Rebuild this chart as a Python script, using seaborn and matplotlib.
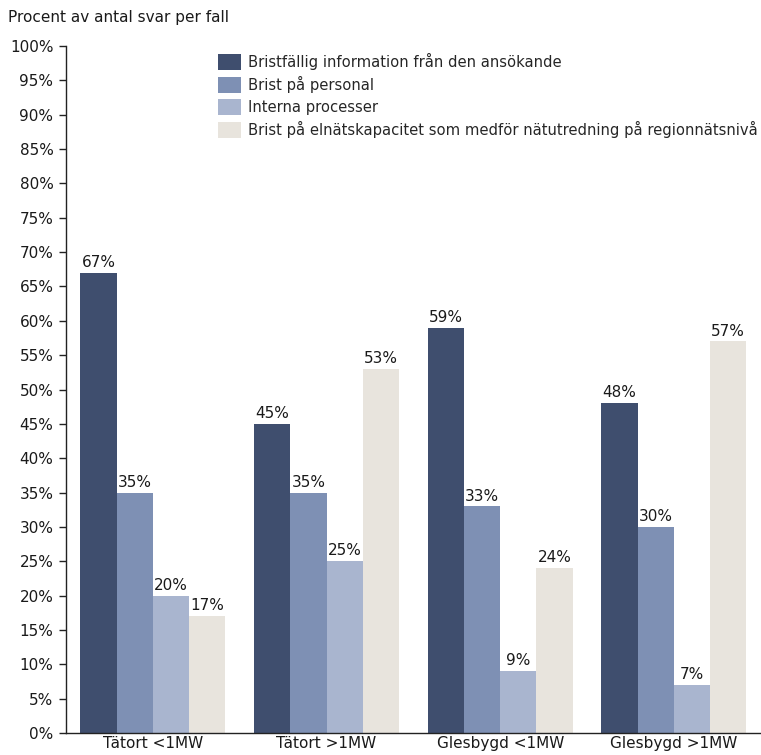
import matplotlib

matplotlib.use("Agg")
import matplotlib.pyplot as plt
import pandas as pd
import seaborn as sns

# Data
categories = ["Tätort <1MW", "Tätort >1MW", "Glesbygd <1MW", "Glesbygd >1MW"]
series_names = [
    "Bristfällig information från den ansökande",
    "Brist på personal",
    "Interna processer",
    "Brist på elnätskapacitet som medför nätutredning på regionnätsnivå",
]
info_values = [67, 45, 59, 48]
personal_values = [35, 35, 33, 30]
process_values = [20, 25, 9, 7]
capacity_values = [17, 53, 24, 57]
colors = ["#3f4e6e", "#7e90b4", "#a9b5cf", "#e8e4dd"]

rows = []
for name, vals in zip(
    series_names, [info_values, personal_values, process_values, capacity_values]
):
    for cat, v in zip(categories, vals):
        rows.append({"kategori": cat, "serie": name, "procent": v})
df = pd.DataFrame(rows)

sns.set_theme(style="white")
plt.rcParams["font.family"] = ["DejaVu Sans"]

fig = plt.figure(figsize=(7.61, 7.55), dpi=100)
ax = fig.add_axes([0.0867, 0.0291, 0.913, 0.910])

sns.barplot(
    data=df,
    x="kategori",
    y="procent",
    hue="serie",
    palette=colors,
    width=0.835,
    saturation=1,
    linewidth=0,
    ax=ax,
)

for container in ax.containers:
    ax.bar_label(container, fmt="%d%%", padding=2, fontsize=11, color="#1a1a1a")

ax.set_ylim(0, 100)
ax.set_xlim(-0.5, 3.5)
ax.set_yticks(range(0, 101, 5))
ax.set_yticklabels([f"{t}%" for t in range(0, 101, 5)], fontsize=11, color="#1a1a1a")
ax.tick_params(axis="x", labelsize=11, labelcolor="#1a1a1a", length=0, pad=2)
ax.tick_params(axis="y", direction="out", length=5, width=1, color="#222222", pad=4, left=True)
ax.set_xlabel("")
ax.set_ylabel("")

sns.despine(ax=ax, top=True, right=True)
ax.spines["left"].set_color("#222222")
ax.spines["bottom"].set_color("#222222")
ax.spines["left"].set_linewidth(1)
ax.spines["bottom"].set_linewidth(1)

ax.legend(
    loc="upper left",
    bbox_to_anchor=(0.219, 0.99),
    frameon=False,
    fontsize=10.6,
    handlelength=1.55,
    handleheight=1.25,
    handletextpad=0.45,
    labelspacing=0.42,
    borderaxespad=0,
    borderpad=0,
)

fig.text(0.011, 0.977, "Procent av antal svar per fall", fontsize=11, color="#1a1a1a", va="center")

fig.savefig("out.png", dpi=100)
